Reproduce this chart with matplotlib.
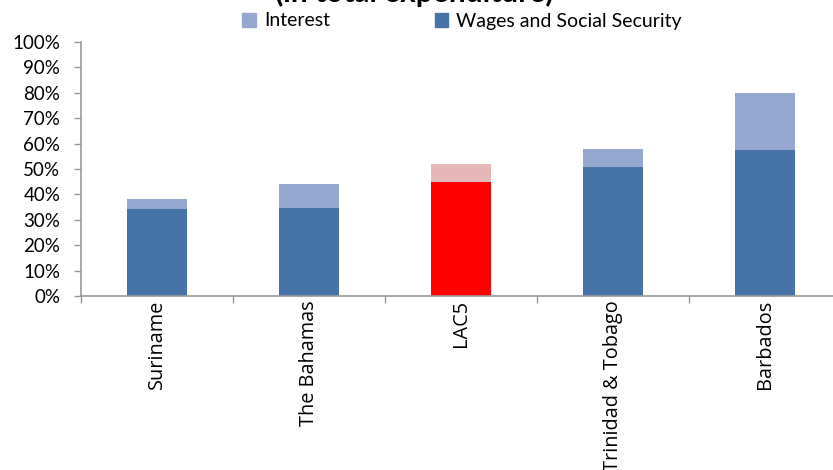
import matplotlib
matplotlib.use("Agg")
import matplotlib.pyplot as plt
from matplotlib.patches import Patch
from matplotlib.ticker import PercentFormatter

countries = ["Suriname", "The Bahamas", "LAC5", "Trinidad & Tobago", "Barbados"]
wages = [34.3, 34.5, 44.9, 50.9, 57.5]
interest = [3.8, 9.7, 7.1, 6.9, 22.4]

wage_color = "#4674A8"
interest_color = "#95A9D0"
lac_wage_color = "#FF0000"
lac_interest_color = "#E6B9B8"

W, H = 833, 470
fig = plt.figure(figsize=(W / 100, H / 100), dpi=100)
ax = fig.add_axes([81 / W, (H - 296) / H, 760 / W, 254 / H])

x = range(len(countries))
wcols = [lac_wage_color if c == "LAC5" else wage_color for c in countries]
icols = [lac_interest_color if c == "LAC5" else interest_color for c in countries]
ax.bar(x, wages, width=0.395, color=wcols, zorder=2)
ax.bar(x, interest, bottom=wages, width=0.395, color=icols, zorder=2)

ax.set_xlim(-0.5, len(countries) - 0.5)
ax.set_ylim(0, 100)
ax.set_yticks(range(0, 101, 10))
ax.yaxis.set_major_formatter(PercentFormatter(decimals=0))

ax.set_xticks([i - 0.5 for i in range(len(countries) + 1)])
ax.set_xticklabels([])
ax.set_xticks(list(x), minor=True)
ax.set_xticklabels(countries, minor=True, rotation=90, va="top",
                   family="Open Sans", fontsize=14.3)
ax.tick_params(axis="x", which="minor", length=0, pad=3)
ax.tick_params(axis="x", which="major", length=5, color="#999999", width=1)
ax.tick_params(axis="y", length=5, color="#999999", width=1, pad=10,
               labelsize=13.5)
for lbl in ax.get_yticklabels():
    lbl.set_family("Lato")

for s in ["top", "right"]:
    ax.spines[s].set_visible(False)
for s in ["left", "bottom"]:
    ax.spines[s].set_color("#999999")
    ax.spines[s].set_linewidth(1.2)

handles = [Patch(color=interest_color, label="Interest"),
           Patch(color=wage_color, label="Wages and Social Security")]
fig.legend(handles=handles, loc="center", bbox_to_anchor=(462 / W, 1 - 21 / H),
           ncol=2, frameon=False, prop={"family": "Lato", "size": 14},
           handlelength=0.7, handleheight=0.7, handletextpad=0.4,
           columnspacing=5.4, borderaxespad=0)

fig.text(414 / W, 1 - 2 / H, "(in total expenditure)", ha="center", va="baseline",
         family="Lato", fontsize=21.5, fontweight="bold")

fig.savefig("out.png", dpi=100)
